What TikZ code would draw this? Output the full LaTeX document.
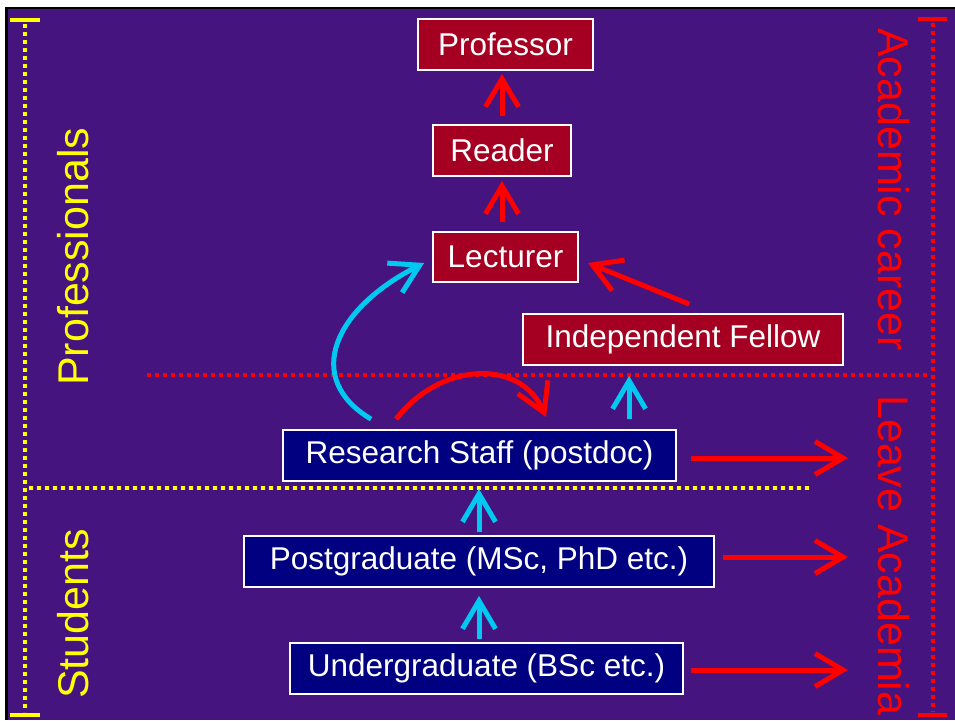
\documentclass[tikz,border=0pt]{standalone}
\usepackage{fontspec}
\setmainfont{Liberation Sans}
\usetikzlibrary{arrows.meta,calc}
\definecolor{bgpurple}{RGB}{70,20,126}
\definecolor{boxred}{RGB}{165,0,33}
\definecolor{boxblue}{RGB}{0,0,128}
\definecolor{arrred}{RGB}{255,0,0}
\definecolor{arrcyan}{RGB}{0,200,240}
\definecolor{labyellow}{RGB}{255,255,0}
\tikzset{
  box/.style={draw=white,line width=1.8pt,inner sep=0pt,text=white,
    font=\fontsize{31.5}{37}\selectfont},
  redbox/.style={box,fill=boxred},
  bluebox/.style={box,fill=boxblue},
  arr/.style={line width=5pt,-{Straight Barb[length=28pt,width=33pt]}},
  redarr/.style={arr,draw=arrred},
  cyanarr/.style={arr,draw=arrcyan},
  dotline/.style={line width=4pt,dash pattern=on 4pt off 4pt},
  sidelabel/.style={font=\fontsize{43}{50}\selectfont,inner sep=0pt},
}
\begin{document}
\begin{tikzpicture}[x=1pt,y=-1pt]
\useasboundingbox (0,0) rectangle (955,720);
\fill[white] (0,0) rectangle (955,720);
\fill[black] (5,7) rectangle (955,720);
\fill[bgpurple] (8,9) rectangle (955,720);

% brackets
\draw[labyellow,dotline] (25,24) -- (25,712);
\draw[labyellow,line width=4pt] (10,20) -- (40,20);
\draw[labyellow,line width=4pt] (10,715) -- (40,715);
\draw[arrred,dotline] (933,23) -- (933,712);
\draw[arrred,line width=4pt] (918,19) -- (947,19);
\draw[arrred,line width=4pt] (918,715) -- (947,715);

% separators
\draw[arrred,dotline] (147,375) -- (930,375);
\draw[labyellow,dotline] (29,488) -- (812,488);

% side labels
\node[sidelabel,text=labyellow,rotate=90,anchor=base west] (prof-lab) at (88,386) {Professionals};
\node[sidelabel,text=labyellow,rotate=90,anchor=base west] (stud-lab) at (88,699) {Students};
\node[sidelabel,text=arrred,rotate=-90,anchor=base west] (acad-lab) at (878,28) {Academic career};
\node[sidelabel,text=arrred,rotate=-90,anchor=base west] (leave-lab) at (878,395) {Leave Academia};

% boxes
\node[redbox,minimum width=175pt,minimum height=51pt] (prof) at (505.5,44.5) {Professor};
\node[redbox,minimum width=138pt,minimum height=51pt] (reader) at (502,150.5) {Reader};
\node[redbox,minimum width=145pt,minimum height=50pt] (lect) at (505.5,257) {Lecturer};
\node[redbox,minimum width=320pt,minimum height=51pt] (indep) at (683,339.5) {Independent Fellow};
\node[bluebox,minimum width=393pt,minimum height=51pt] (rs) at (479.5,455.5) {Research Staff (postdoc)};
\node[bluebox,minimum width=470pt,minimum height=51pt] (pg) at (479,561.5) {Postgraduate (MSc, PhD etc.)};
\node[bluebox,minimum width=393pt,minimum height=51pt] (ug) at (486.5,668.5) {Undergraduate (BSc etc.)};

% free ends
\coordinate (outrs) at (848,458);
\coordinate (outpg) at (848,557);
\coordinate (outug) at (848,670);

% vertical arrows
\draw[redarr] ([yshift=8pt]reader.north) -- ([yshift=-3pt]reader.north |- prof.south);
\draw[redarr] ([yshift=9pt]reader.north |- lect.north) -- ([yshift=-4pt]reader.south);
\draw[cyanarr] ([yshift=3pt]pg.north) -- ([yshift=-7pt]pg.north |- rs.south);
\draw[cyanarr] ([yshift=3pt]pg.north |- ug.north) -- ([yshift=-8pt]pg.south);
\draw[cyanarr] ([xshift=347pt,yshift=10pt]rs.north west) -- ([xshift=107pt,yshift=-10pt]indep.south west);

% diagonal
\draw[redarr] ([xshift=167pt,yshift=9pt]indep.north west) -- ([xshift=9pt,yshift=-6pt]lect.east);

% curves
\draw[cyanarr] ([xshift=89pt,yshift=10pt]rs.north west) .. controls (302,378) and (335,308) .. ([xshift=-8pt,yshift=-6pt]lect.west);
\draw[redarr] ([xshift=114pt,yshift=10pt]rs.north west) .. controls (440,362) and (520,358) .. ([xshift=264pt,yshift=12pt]rs.north west);

% leave arrows
\draw[redarr] ([xshift=14pt]rs.east |- outrs) -- (outrs);
\draw[redarr] ([xshift=8pt]pg.east |- outpg) -- (outpg);
\draw[redarr] ([xshift=7pt]ug.east |- outug) -- (outug);
\end{tikzpicture}
\end{document}
